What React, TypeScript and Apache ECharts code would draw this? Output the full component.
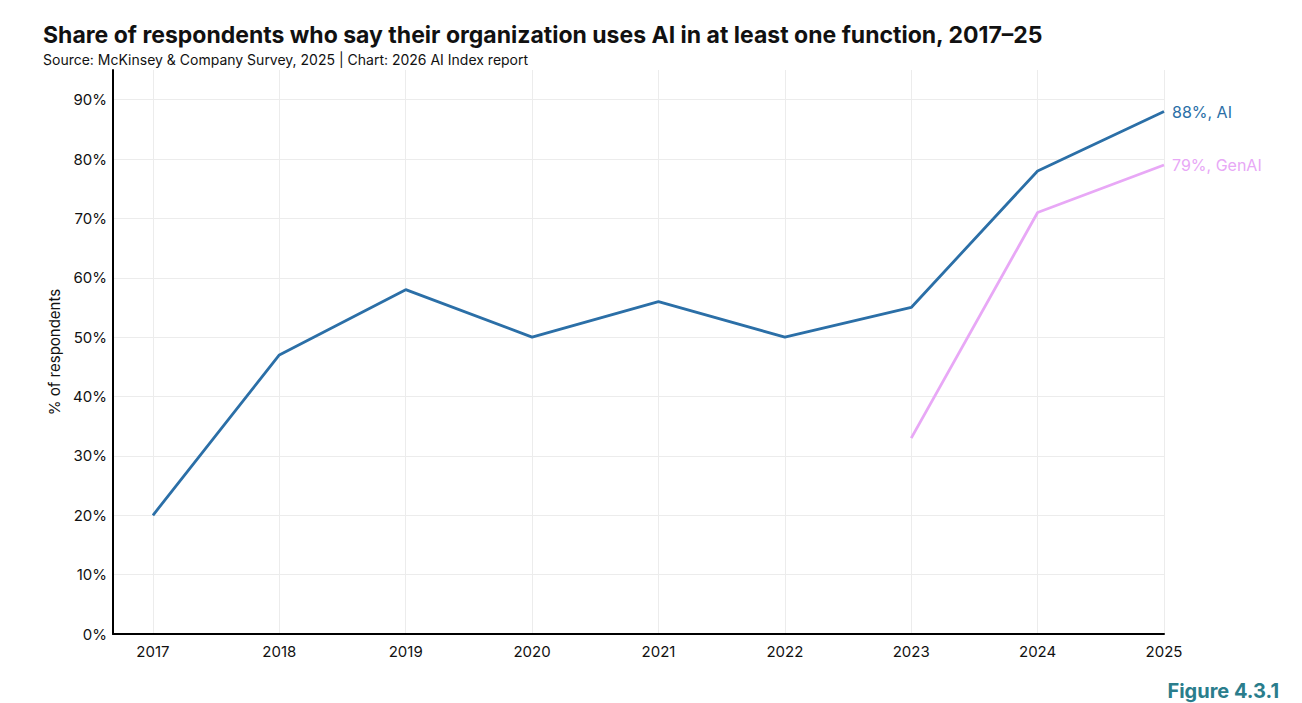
import React, { useEffect, useRef } from "react";
import * as echarts from "echarts";

const years = [2017, 2018, 2019, 2020, 2021, 2022, 2023, 2024, 2025];
const aiShare = [20, 47, 58, 50, 56, 50, 55, 78, 88];
const genAiYears = [2023, 2024, 2025];
const genAiShare = [33, 71, 79];
const yTicks = [0, 10, 20, 30, 40, 50, 60, 70, 80, 90];

const FONT = "Inter, 'Noto Sans', sans-serif";
const AI_COLOR = "#2b6fa7";
const GENAI_COLOR = "#e8a8f6";

export default function App() {
  const ref = useRef<HTMLDivElement>(null);

  useEffect(() => {
    if (!ref.current) return;
    const chart = echarts.init(ref.current, undefined, { renderer: "svg" });
    chart.setOption({
      animation: false,
      backgroundColor: "#ffffff",
      textStyle: { fontFamily: FONT },
      title: {
        text: "Share of respondents who say their organization uses AI in at least one function, 2017–25",
        subtext: "Source: McKinsey & Company Survey, 2025 | Chart: 2026 AI Index report",
        left: 38,
        top: 18,
        itemGap: 6,
        textStyle: { fontFamily: FONT, fontSize: 23, fontWeight: "bold", color: "#111111" },
        subtextStyle: { fontFamily: FONT, fontSize: 14, color: "#111111" },
      },
      grid: { left: 113, right: 138, top: 70, bottom: 69 },
      xAxis: {
        type: "value",
        min: 2016.684,
        max: 2025,
        axisLine: { show: true, lineStyle: { color: "#000000", width: 2 } },
        axisTick: { show: false, customValues: years },
        axisLabel: {
          customValues: years,
          formatter: (v: number) => String(v),
          color: "#111111",
          fontSize: 15,
          margin: 10,
          fontFamily: FONT,
        },
        splitLine: { show: true, lineStyle: { color: "#ececec", width: 1 } },
      },
      yAxis: {
        type: "value",
        min: 0,
        max: 95,
        name: "% of respondents",
        nameLocation: "middle",
        nameGap: 51,
        nameTextStyle: { fontSize: 15, color: "#111111", fontFamily: FONT },
        axisLine: { show: true, lineStyle: { color: "#000000", width: 2 } },
        axisTick: { show: false, customValues: yTicks },
        axisLabel: {
          customValues: yTicks,
          formatter: (v: number) => `${v}%`,
          color: "#111111",
          fontSize: 15,
          margin: 6,
          fontFamily: FONT,
        },
        splitLine: { show: true, lineStyle: { color: "#ececec", width: 1 } },
      },
      series: [
        {
          name: "AI",
          type: "line",
          data: years.map((y, i) => [y, aiShare[i]]),
          showSymbol: false,
          lineStyle: { color: AI_COLOR, width: 2.8 },
          itemStyle: { color: AI_COLOR },
          endLabel: {
            show: true,
            formatter: (p: any) => `${p.value[1]}%, AI`,
            color: AI_COLOR,
            fontSize: 16,
            fontFamily: FONT,
            distance: 8,
          },
        },
        {
          name: "GenAI",
          type: "line",
          data: genAiYears.map((y, i) => [y, genAiShare[i]]),
          showSymbol: false,
          lineStyle: { color: GENAI_COLOR, width: 2.8 },
          itemStyle: { color: GENAI_COLOR },
          endLabel: {
            show: true,
            formatter: (p: any) => `${p.value[1]}%, GenAI`,
            color: GENAI_COLOR,
            fontSize: 16,
            fontFamily: FONT,
            distance: 8,
          },
        },
      ],
      graphic: [
        {
          type: "text",
          right: 23,
          top: 681,
          style: {
            text: "Figure 4.3.1",
            fill: "#2a7d8c",
            font: `bold 20px ${FONT}`,
          },
        },
      ],
    });
    return () => chart.dispose();
  }, []);

  return (
    <div
      ref={ref}
      style={{ position: "fixed", left: 0, top: 0, width: 1302, height: 703 }}
    />
  );
}
